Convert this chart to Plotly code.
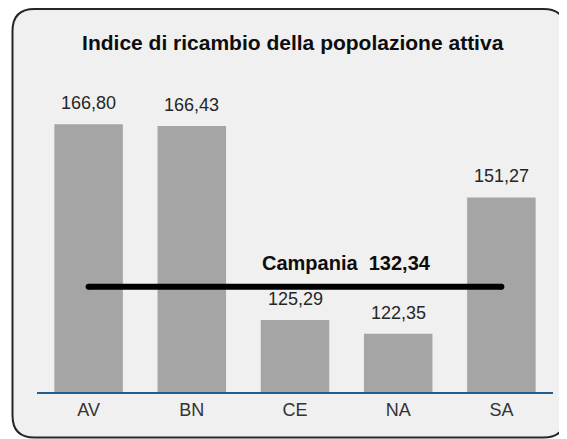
import plotly.graph_objects as go

# ---- data ----
categories = ["AV", "BN", "CE", "NA", "SA"]
values = [166.80, 166.43, 125.29, 122.35, 151.27]
regional_label = "Campania"
regional_value = 132.34
title_text = "Indice di ricambio della popolazione attiva"

def it_fmt(v):
    return f"{v:.2f}".replace(".", ",")

# the page body has an 8px margin, so the figure is sized to fit inside the window
W, H = 559, 431
ML, MR, MT, MB = 29, 14, 54, 47
Y_MIN, Y_MAX = 110, 180

FONT = "Liberation Sans, Arial, sans-serif"

fig = go.Figure()
fig.add_trace(go.Bar(
    x=categories, y=values,
    marker=dict(color="#a5a5a5", line=dict(width=0)),
    hoverinfo="skip",
))

# regional average line
fig.add_trace(go.Scatter(
    x=[categories[0], categories[-1]],
    y=[regional_value, regional_value],
    mode="lines+markers",
    line=dict(color="#000000", width=6),
    marker=dict(color="#000000", size=6),
    hoverinfo="skip",
))

annotations = []
for c, v in zip(categories, values):
    annotations.append(dict(
        x=c, y=v, xref="x", yref="y", text=it_fmt(v),
        showarrow=False, yanchor="bottom", yshift=9,
        font=dict(family=FONT, size=18, color="#262626"),
    ))
annotations.append(dict(
    x=2.5, y=regional_value, xref="x", yref="y",
    text=f"<b>{regional_label}  {it_fmt(regional_value)}</b>",
    showarrow=False, yanchor="bottom", yshift=11,
    font=dict(family=FONT, size=20, color="#0d0d0d"),
))

# rounded frame, expressed in paper coordinates of the plot area
pw = W - ML - MR
ph = H - MT - MB
def px(x):
    return (x - ML) / pw
def py(y):
    return (H - MB - y) / ph

x0, x1, y0, y1, r = 4.5, 557.5, 1.0, 429.5, 22
path = (
    f"M {px(x0 + r)},{py(y0)} L {px(x1 - r)},{py(y0)} "
    f"Q {px(x1)},{py(y0)} {px(x1)},{py(y0 + r)} "
    f"L {px(x1)},{py(y1 - r)} "
    f"Q {px(x1)},{py(y1)} {px(x1 - r)},{py(y1)} "
    f"L {px(x0 + r)},{py(y1)} "
    f"Q {px(x0)},{py(y1)} {px(x0)},{py(y1 - r)} "
    f"L {px(x0)},{py(y0 + r)} "
    f"Q {px(x0)},{py(y0)} {px(x0 + r)},{py(y0)} Z"
)

fig.update_layout(
    width=W, height=H,
    margin=dict(l=ML, r=MR, t=MT, b=MB, pad=0),
    paper_bgcolor="#ffffff",
    plot_bgcolor="rgba(0,0,0,0)",
    showlegend=False,
    bargap=0.336,
    title=dict(
        text=f"<b>{title_text}</b>",
        x=284.7 / W, xanchor="center",
        y=1 - 35 / H, yanchor="middle",
        font=dict(family=FONT, size=21, color="#0d0d0d"),
    ),
    xaxis=dict(
        showgrid=False, zeroline=False,
        showline=True, linecolor="#1f5f8b", linewidth=2,
        ticks="",
        tickfont=dict(family=FONT, size=18, color="#333333"),
    ),
    yaxis=dict(
        range=[Y_MIN, Y_MAX], visible=False, showgrid=False, zeroline=False,
    ),
    annotations=annotations,
    shapes=[dict(
        type="path", xref="paper", yref="paper", path=path,
        fillcolor="#f0f0f0", line=dict(color="#262626", width=2),
        layer="below",
    )],
)

fig.write_html("out.html")
